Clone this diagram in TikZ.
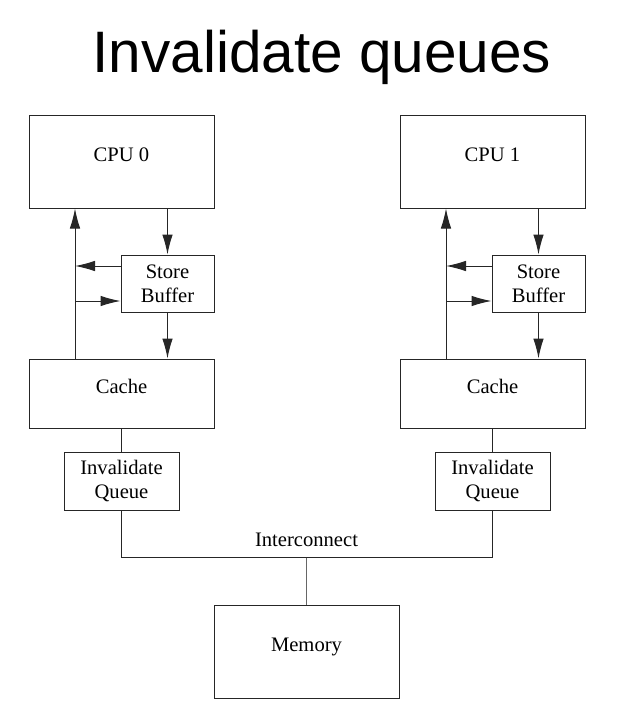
\documentclass[tikz,border=0pt]{standalone}
\usepackage{fontspec}
\setmainfont{Liberation Serif}
\newfontfamily\titlefont{Liberation Sans}
\usetikzlibrary{arrows.meta}
\begin{document}
\begin{tikzpicture}[x=1pt,y=-1pt,
  box/.style={draw=black!85,line width=1pt,inner sep=0pt,font=\fontsize{20.6}{24}\selectfont,align=center},
  bigbox/.style={box,minimum width=185pt},
  raised/.style={text height=14pt,text depth=13.5pt},
  conn/.style={draw=black!85,line width=1pt},
  arr/.style={conn,-{Latex[length=20pt,width=10.5pt]}}]
\path[use as bounding box,fill=white] (0,0) rectangle (635,718);
\node[font=\titlefont\fontsize{58.5}{62}\selectfont,anchor=base,inner sep=0pt] (title) at (322,72.5) {Invalidate queues};
% CPU 0 side
\node[bigbox,raised,minimum height=93pt] (cpu0) at (121.5,161.5) {CPU 0};
\node[box,minimum width=93pt,minimum height=57pt] (sb0) at (167.5,283.5) {Store\\Buffer};
\node[bigbox,raised,minimum height=69pt] (cache0) at (121.5,393.5) {Cache};
\node[box,minimum width=115pt,minimum height=58pt] (iq0) at (121.5,481) {Invalidate\\Queue};
% CPU 1 side
\node[bigbox,raised,minimum height=93pt] (cpu1) at (492.5,161.5) {CPU 1};
\node[box,minimum width=93pt,minimum height=57pt] (sb1) at (538.5,283.5) {Store\\Buffer};
\node[bigbox,raised,minimum height=69pt] (cache1) at (492.5,393.5) {Cache};
\node[box,minimum width=115pt,minimum height=58pt] (iq1) at (492.5,481) {Invalidate\\Queue};
% memory
\node[bigbox,raised,minimum height=93pt] (mem) at (306.5,651.5) {Memory};
\coordinate (bus) at (306.5,557.5);
\node[font=\fontsize{20.6}{24}\selectfont,anchor=base,inner sep=0pt] (ic) at (306.5,546.5) {Interconnect};
% left connectors
\coordinate (lx0) at (75,0);
\coordinate (lx1) at (446,0);
\draw[arr] (lx0 |- cache0.north) -- (lx0 |- cpu0.south);
\draw[arr] (sb0.north |- cpu0.south) -- (sb0.north);
\draw[arr] (sb0.south) -- (sb0.south |- cache0.north);
\coordinate (a0) at ([yshift=17.5pt]sb0.west);
\coordinate (b0) at ([yshift=-17.5pt]sb0.west);
\draw[arr] (a0) -- (a0 -| lx0);
\draw[arr] (b0 -| lx0) -- (b0);
\draw[conn] (cache0.south) -- (iq0.north);
% right connectors
\draw[arr] (lx1 |- cache1.north) -- (lx1 |- cpu1.south);
\draw[arr] (sb1.north |- cpu1.south) -- (sb1.north);
\draw[arr] (sb1.south) -- (sb1.south |- cache1.north);
\coordinate (a1) at ([yshift=17.5pt]sb1.west);
\coordinate (b1) at ([yshift=-17.5pt]sb1.west);
\draw[arr] (a1) -- (a1 -| lx1);
\draw[arr] (b1 -| lx1) -- (b1);
\draw[conn] (cache1.south) -- (iq1.north);
% interconnect
\draw[conn] (iq0.south) -- (iq0.south |- bus) -- (iq1.south |- bus) -- (iq1.south);
\draw[conn,draw=black!60] (bus) -- (mem.north);
\end{tikzpicture}
\end{document}
